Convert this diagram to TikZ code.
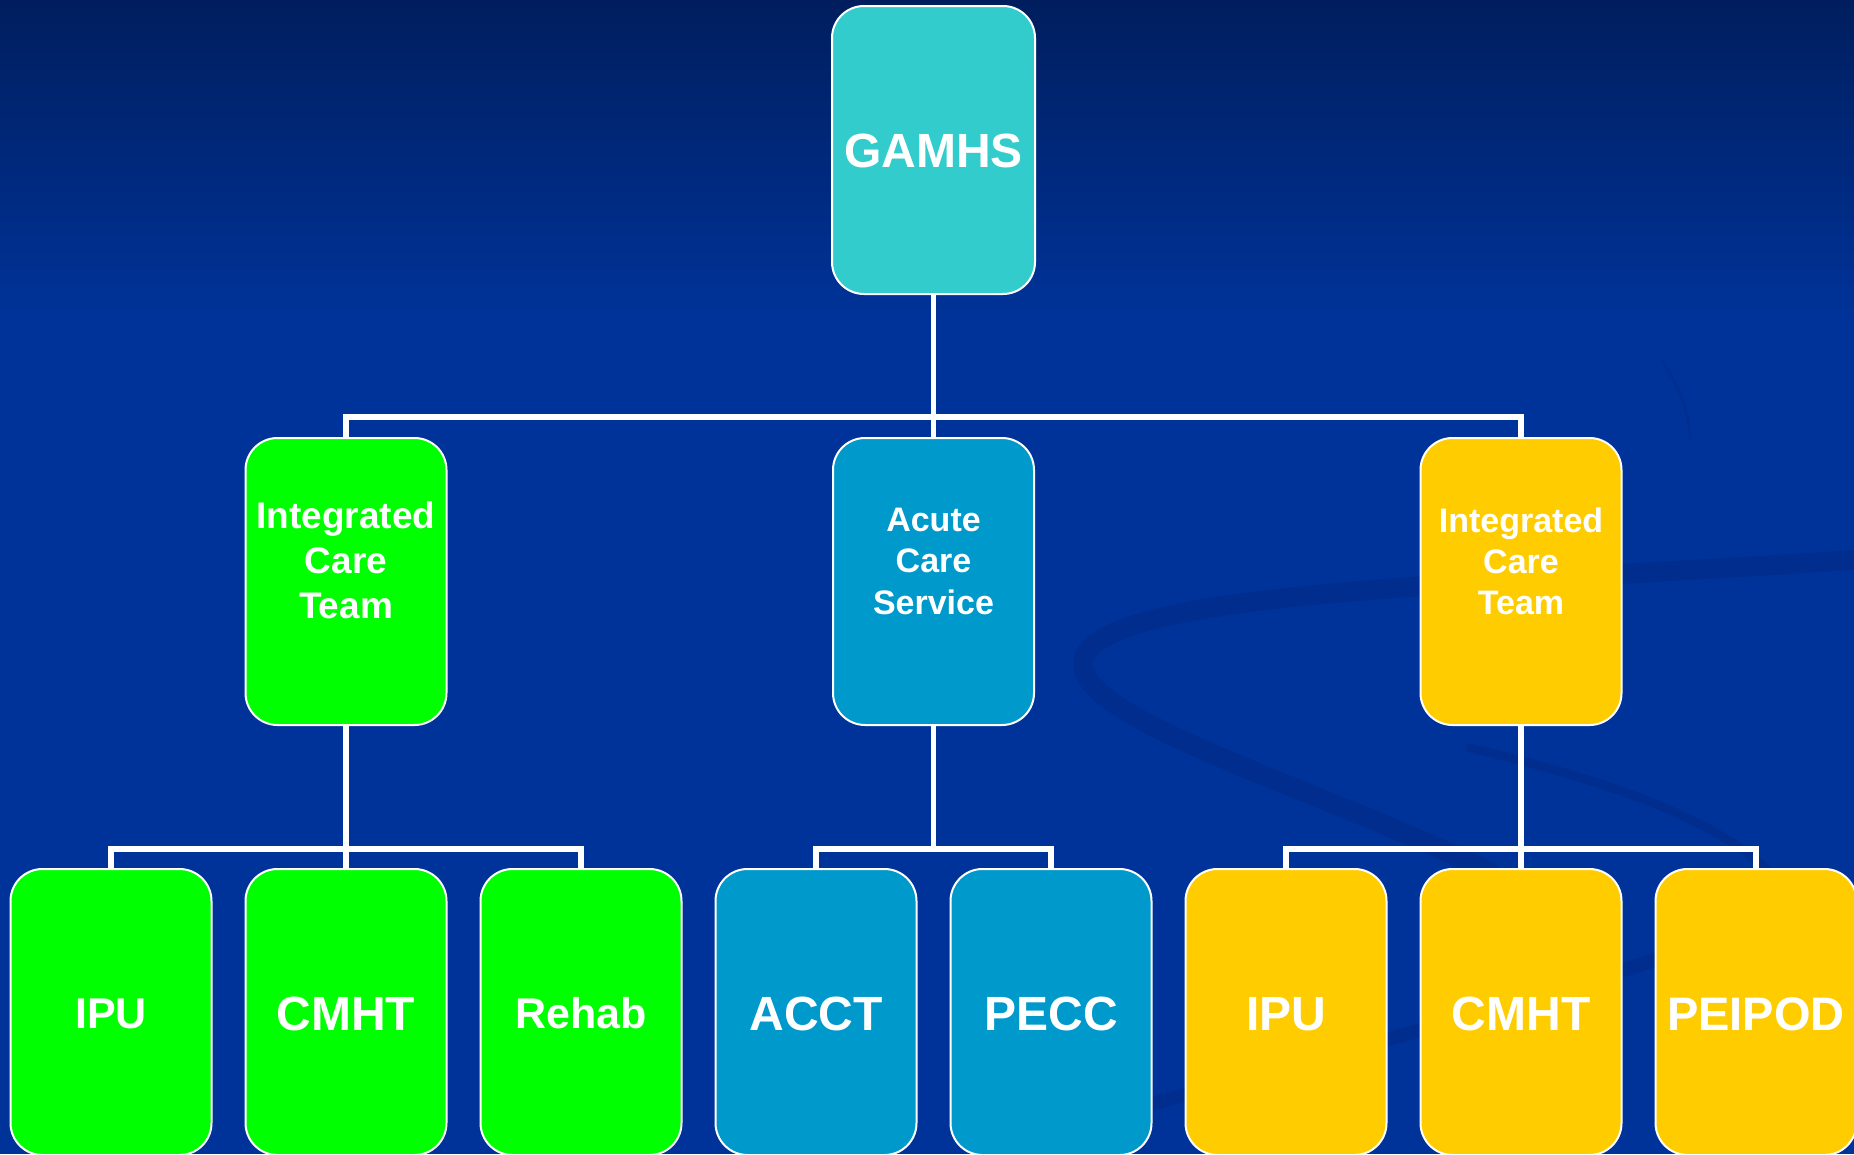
\documentclass[tikz,border=0pt]{standalone}
\usepackage{fontspec}
\setmainfont{Liberation Sans}
\usetikzlibrary{calc}
\definecolor{bgtop}{RGB}{0,30,94}
\definecolor{bgmain}{RGB}{0,51,153}
\definecolor{swirlc}{RGB}{0,36,122}
\definecolor{cteal}{RGB}{51,204,204}
\definecolor{cgreen}{RGB}{0,255,0}
\definecolor{cblue}{RGB}{0,153,204}
\definecolor{cyellow}{RGB}{255,204,0}
\tikzset{
  boxnode/.style={draw=white, line width=2pt, rounded corners=32pt, minimum width=201pt, minimum height=287pt, inner sep=0pt, outer sep=0pt},
  lowbox/.style={boxnode, minimum height=286pt},
  lbl/.style={text=white, align=center, inner sep=0pt},
  conn/.style={draw=white, line width=5.5pt, line join=miter},
  swirl/.style={draw=swirlc, opacity=0.35, line cap=round},
}
\begin{document}
\begin{tikzpicture}[x=1pt,y=-1pt]
\useasboundingbox (0,0) rectangle (1854,1154);
\clip (0,0) rectangle (1854,1154);
% background
\fill[bgmain] (0,0) rectangle (1854,1154);
\shade[top color=bgtop, bottom color=bgmain] (0,0) rectangle (1854,320);
% faint swirl
\draw[swirl, line width=20pt] (1880,558) .. controls (1500,585) and (1120,588) .. (1085,655) .. controls (1060,715) and (1300,780) .. (1490,872);
\draw[swirl, line width=14pt] (985,1148) .. controls (1300,1065) and (1600,985) .. (1880,885);
\draw[swirl, line width=9pt] (1470,748) .. controls (1650,790) and (1760,840) .. (1795,905);
\draw[swirl, opacity=0.25, line width=3pt] (1662,360) .. controls (1676,382) and (1690,410) .. (1690,440);

% level 1
\node[boxnode, fill=cteal, minimum width=203pt, minimum height=288pt] (gamhs) at (933.5,150) {};
% level 2
\node[boxnode, fill=cgreen]  (ict1) at (346,581.5) {};
\node[boxnode, fill=cblue]   (acs)  at (933.5,581.5) {};
\node[boxnode, fill=cyellow] (ict2) at (1521,581.5) {};
% level 3
\node[lowbox, fill=cgreen]  (ipu1)   at (111,1012) {};
\node[lowbox, fill=cgreen]  (cmht1)  at (346,1012) {};
\node[lowbox, fill=cgreen]  (rehab)  at (581,1012) {};
\node[lowbox, fill=cblue]   (acct)   at (816,1012) {};
\node[lowbox, fill=cblue]   (pecc)   at (1051,1012) {};
\node[lowbox, fill=cyellow] (ipu2)   at (1286,1012) {};
\node[lowbox, fill=cyellow] (cmht2)  at (1521,1012) {};
\node[lowbox, fill=cyellow] (peipod) at (1756,1012) {};

% labels
\node[lbl, font=\bfseries\fontsize{48}{56}\selectfont] at ($(gamhs.center)+(0,1)$) {GAMHS};
\node[lbl, font=\bfseries\fontsize{37}{45}\selectfont] at ($(ict1.center)+(0,-21)$) {Integrated\\Care\\Team};
\node[lbl, font=\bfseries\fontsize{34}{41.5}\selectfont] at ($(acs.center)+(0,-20.5)$) {Acute\\Care\\Service};
\node[lbl, font=\bfseries\fontsize{34}{41}\selectfont] at ($(ict2.center)+(0,-20.5)$) {Integrated\\Care\\Team};
\node[lbl, font=\bfseries\fontsize{43}{50}\selectfont] at ($(ipu1.center)+(0,1.5)$) {IPU};
\node[lbl, font=\bfseries\fontsize{48}{56}\selectfont] at ($(cmht1.center)+(0,2)$) {CMHT};
\node[lbl, font=\bfseries\fontsize{43}{50}\selectfont] at ($(rehab.center)+(0,1.5)$) {Rehab};
\node[lbl, font=\bfseries\fontsize{48}{56}\selectfont] at ($(acct.center)+(0,2)$) {ACCT};
\node[lbl, font=\bfseries\fontsize{48}{56}\selectfont] at ($(pecc.center)+(0,2)$) {PECC};
\node[lbl, font=\bfseries\fontsize{48}{56}\selectfont] at ($(ipu2.center)+(0,2)$) {IPU};
\node[lbl, font=\bfseries\fontsize{48}{56}\selectfont] at ($(cmht2.center)+(0,2)$) {CMHT};
\node[lbl, font=\bfseries\fontsize{47}{56}\selectfont] at ($(peipod.center)+(0,2)$) {PEIPOD};

% connectors level 1 -> 2
\draw[conn] (gamhs.south) |- ($(ict1.north)+(0,-21)$) -- (ict1.north);
\draw[conn] (gamhs.south) -- (acs.north);
\draw[conn] (gamhs.south) |- ($(ict2.north)+(0,-21)$) -- (ict2.north);
% connectors level 2 -> 3
\draw[conn] (ict1.south) |- ($(ipu1.north)+(0,-20)$) -- (ipu1.north);
\draw[conn] (ict1.south) -- (cmht1.north);
\draw[conn] (ict1.south) |- ($(rehab.north)+(0,-20)$) -- (rehab.north);
\draw[conn] (acs.south) |- ($(acct.north)+(0,-20)$) -- (acct.north);
\draw[conn] (acs.south) |- ($(pecc.north)+(0,-20)$) -- (pecc.north);
\draw[conn] (ict2.south) |- ($(ipu2.north)+(0,-20)$) -- (ipu2.north);
\draw[conn] (ict2.south) -- (cmht2.north);
\draw[conn] (ict2.south) |- ($(peipod.north)+(0,-20)$) -- (peipod.north);
\end{tikzpicture}
\end{document}
